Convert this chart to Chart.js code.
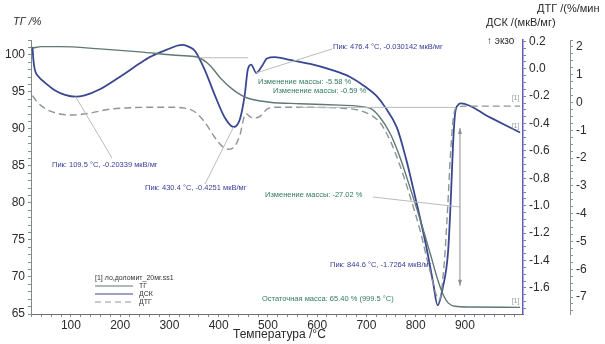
<!DOCTYPE html>
<html>
<head>
<meta charset="utf-8">
<script src="https://cdn.jsdelivr.net/npm/chart.js@4.4.1/dist/chart.umd.min.js"></script>
<style>
  html, body { margin: 0; padding: 0; background: #fff; }
</style>
</head>
<body>
<canvas id="chart" width="605" height="344"></canvas>
<script>
// TG / DSC / DTG curves

const tgTemp   = [22, 40, 78, 159, 240, 321, 356, 382, 403, 429, 457, 504, 565, 646, 707, 727, 748, 768, 788, 809, 829, 845, 856, 866, 880, 910, 1012];
const tgValues = [100.9, 101.1, 101.1, 100.8, 100.4, 99.9, 99.7, 98.6, 96.9, 95.3, 94.2, 93.6, 93.4, 93.2, 92.8, 91.6, 89.4, 86.2, 82.2, 77.8, 73.3, 69.6, 67.6, 66.5, 66.05, 65.95, 65.9];

const dscTemp   = [22, 24, 27, 35, 47, 68, 88, 109.5, 128, 159, 199, 240, 260, 281, 301, 315, 327, 340, 352, 372, 392, 413, 430.4, 443, 453, 459, 466, 476.4, 488, 498, 514, 545, 586, 626, 667, 697, 721, 738, 762, 780, 800, 820, 835, 844.6, 855, 866, 872, 876, 880, 886, 892, 951, 1012];
const dscValues = [0.16, 0.06, -0.01, -0.06, -0.1, -0.158, -0.19, -0.2034, -0.194, -0.15, -0.06, 0.04, 0.085, 0.12, 0.148, 0.168, 0.175, 0.16, 0.13, -0.01, -0.19, -0.36, -0.4251, -0.37, -0.19, -0.01, 0.03, -0.0301, 0.02, 0.075, 0.085, 0.065, 0.035, -0.005, -0.06, -0.13, -0.2, -0.28, -0.43, -0.65, -0.95, -1.27, -1.55, -1.7264, -1.6, -1.33, -0.9, -0.55, -0.33, -0.265, -0.252, -0.355, -0.465];

const dtgTemp   = [22, 30, 40, 57, 80, 104, 139, 179, 220, 260, 301, 331, 352, 372, 392, 407, 419, 433, 443, 455, 468, 482, 500, 520, 565, 646, 697, 727, 748, 768, 788, 809, 829, 848, 858, 865, 871, 877, 885, 900, 1012];
const dtgValues = [0.25, 0.05, -0.12, -0.3, -0.42, -0.45, -0.38, -0.24, -0.19, -0.17, -0.17, -0.2, -0.34, -0.71, -1.25, -1.57, -1.68, -1.57, -1.18, -0.4, -0.55, -0.52, -0.22, -0.17, -0.17, -0.2, -0.35, -0.71, -1.36, -2.26, -3.34, -4.6, -6.05, -7.1, -5.8, -3.8, -1.8, -0.5, -0.16, -0.13, -0.13];

// tick labels
const xTicks   = [100, 200, 300, 400, 500, 600, 700, 800, 900];
const tgTicks  = [65, 70, 75, 80, 85, 90, 95, 100];
const dscTicks = [-1.6, -1.4, -1.2, -1.0, -0.8, -0.6, -0.4, -0.2, 0.0, 0.2];
const dtgTicks = [-7, -6, -5, -4, -3, -2, -1, 0, 1, 2];

// annotations
const peakTemps  = [109.5, 430.4, 476.4, 844.6];
const peakValues = [-0.20339, -0.4251, -0.030142, -1.7264];
const massChanges = [-5.58, -0.59, -27.02];
const residualMass = 65.40;
const residualTemp = 999.5;

const FONT = '"Liberation Sans", Arial, sans-serif';
Chart.defaults.font.family = FONT;
Chart.defaults.color = "#2b2b2b";

const TG_COLOR = "#5f7875";
const DSC_COLOR = "#3a4790";
const DTG_COLOR = "#8d9594";

const pts = (xs, ys) => xs.map((t, i) => ({ x: t, y: ys[i] }));

// major ticks with labels, minor ones without
function tickBuilder(step, min, max) {
  return scale => {
    const out = [];
    const n0 = Math.ceil(min / step - 1e-9), n1 = Math.floor(max / step + 1e-9);
    for (let n = n0; n <= n1; n++) out.push({ value: +(n * step).toFixed(4) });
    scale.ticks = out;
  };
}
const isMajor = (list, v) => list.some(m => Math.abs(m - v) < 1e-6);

const annotate = {
  id: "annotate",
  afterDatasetsDraw(chart) {
    const { ctx, scales } = chart;
    const x = scales.x, yTG = scales.yTG, yDSC = scales.yDSC, yDTG = scales.yDTG;
    const line = (x1, y1, x2, y2) => { ctx.beginPath(); ctx.moveTo(x1, y1); ctx.lineTo(x2, y2); ctx.stroke(); };
    ctx.save();

    // mass change reference lines
    ctx.strokeStyle = "#b9bcbc";
    ctx.lineWidth = 1;
    line(x.getPixelForValue(362), yTG.getPixelForValue(99.6), x.getPixelForValue(460), yTG.getPixelForValue(99.6));
    line(x.getPixelForValue(565), yTG.getPixelForValue(92.9), x.getPixelForValue(880), yTG.getPixelForValue(92.9));

    // peak leader lines
    const leaderEnds = [[112, 158], [205, 184], [332, 49], null];
    peakTemps.forEach((t, i) => {
      if (!leaderEnds[i]) return;
      line(x.getPixelForValue(t), yDSC.getPixelForValue(peakValues[i]), leaderEnds[i][0], leaderEnds[i][1]);
    });
    line(373, 197, 460, 207);

    // double arrow of the big mass step
    const ax = x.getPixelForValue(890);
    const ay1 = yTG.getPixelForValue(90.1), ay2 = yTG.getPixelForValue(68.8);
    ctx.strokeStyle = "#8a8f8f";
    line(ax, ay1, ax, ay2);
    ctx.fillStyle = "#8a8f8f";
    ctx.beginPath(); ctx.moveTo(ax, ay1); ctx.lineTo(ax - 2, ay1 + 6); ctx.lineTo(ax + 2, ay1 + 6); ctx.fill();
    ctx.beginPath(); ctx.moveTo(ax, ay2); ctx.lineTo(ax - 2, ay2 - 6); ctx.lineTo(ax + 2, ay2 - 6); ctx.fill();

    // peak labels
    ctx.textBaseline = "middle";
    ctx.textAlign = "left";
    ctx.font = "7.5px " + FONT;
    ctx.fillStyle = "#3a409a";
    const peakPos = [[52, 165], [145, 188], [333, 47], [330, 265]];
    peakTemps.forEach((t, i) => {
      ctx.fillText("Пик: " + t.toFixed(1) + " °C, " + peakValues[i] + " мкВ/мг", peakPos[i][0], peakPos[i][1]);
    });

    // mass labels
    ctx.fillStyle = "#2f7a5e";
    const massPos = [[258, 82], [273, 91], [265, 195]];
    massChanges.forEach((m, i) => {
      ctx.fillText("Изменение массы: " + m.toFixed(2) + " %", massPos[i][0], massPos[i][1]);
    });
    ctx.fillText("Остаточная масса: " + residualMass.toFixed(2) + " % (" + residualTemp.toFixed(1) + " °C)", 262, 299);

    // [1] tags at curve ends
    ctx.font = "6.5px " + FONT;
    ctx.fillStyle = "#8a8f8f";
    const endX = x.getPixelForValue(1012) - 8;
    ctx.fillText("[1]", endX, yDTG.getPixelForValue(dtgValues[dtgValues.length - 1]) - 8);
    ctx.fillText("[1]", endX, yDSC.getPixelForValue(dscValues[dscValues.length - 1]) - 6);
    ctx.fillText("[1]", endX, yTG.getPixelForValue(tgValues[tgValues.length - 1]) - 6);

    // legend
    ctx.fillStyle = "#333";
    ctx.font = "7px " + FONT;
    ctx.fillText("[1] ло,доломит_20мг.ss1", 95, 278);
    const legend = [["ТГ", TG_COLOR, []], ["ДСК", DSC_COLOR, []], ["ДТГ", DTG_COLOR, [6, 4]]];
    legend.forEach((item, i) => {
      const ly = 286 + i * 8;
      ctx.strokeStyle = item[1];
      ctx.lineWidth = 1.2;
      ctx.setLineDash(item[2]);
      line(95, ly, 133, ly);
      ctx.setLineDash([]);
      ctx.fillStyle = "#333";
      ctx.fillText(item[0], 139, ly);
    });
    ctx.restore();
  },
  afterDraw(chart) {
    const ctx = chart.ctx;
    ctx.save();
    ctx.fillStyle = "#2b2b2b";
    ctx.textBaseline = "middle";
    ctx.textAlign = "left";
    ctx.font = "italic 11px " + FONT;
    ctx.fillText("ТГ /%", 13, 22);
    ctx.font = "11px " + FONT;
    ctx.fillText("ДТГ /(%/мин", 537, 9);
    ctx.fillText("ДСК /(мкВ/мг)", 486, 23);
    ctx.font = "10px " + FONT;
    ctx.fillText("↑ экзо", 487, 41);
    ctx.font = "12px " + FONT;
    ctx.fillText("Температура /°C", 233, 335);
    ctx.restore();
  }
};

const axisBase = {
  grid: { drawOnChartArea: false, drawTicks: true, tickLength: 3 },
  ticks: { autoSkip: false, maxRotation: 0, padding: 3, font: { size: 12 } }
};

new Chart(document.getElementById("chart"), {
  type: "line",
  data: {
    datasets: [
      {
        label: "ТГ",
        data: pts(tgTemp, tgValues),
        yAxisID: "yTG",
        borderColor: TG_COLOR,
        borderWidth: 1.4
      },
      {
        label: "ДТГ",
        data: pts(dtgTemp, dtgValues),
        yAxisID: "yDTG",
        borderColor: DTG_COLOR,
        borderWidth: 1.4,
        borderDash: [7, 4]
      },
      {
        label: "ДСК",
        data: pts(dscTemp, dscValues),
        yAxisID: "yDSC",
        borderColor: DSC_COLOR,
        borderWidth: 1.8
      }
    ]
  },
  options: {
    responsive: false,
    animation: false,
    layout: { padding: { top: 40, left: 0, right: 0, bottom: 0 } },
    elements: {
      point: { radius: 0 },
      line: { cubicInterpolationMode: "monotone", fill: false }
    },
    plugins: {
      legend: { display: false },
      tooltip: { enabled: false }
    },
    scales: {
      x: {
        type: "linear",
        position: "bottom",
        min: 19,
        max: 1018,
        border: { color: "#6d7070" },
        grid: { ...axisBase.grid, color: "#8a8d8d" },
        ticks: { ...axisBase.ticks, padding: 1, callback: v => isMajor(xTicks, v) ? String(v) : "" },
        afterBuildTicks: tickBuilder(20, 20, 1000),
        afterFit: s => { s.height = 30; }
      },
      yTG: {
        type: "linear",
        position: "left",
        min: 65,
        max: 102,
        border: { color: "#7a8a88" },
        grid: { ...axisBase.grid, color: "#8a8d8d" },
        ticks: { ...axisBase.ticks, callback: v => isMajor(tgTicks, v) ? String(v) : "" },
        afterBuildTicks: tickBuilder(1, 65, 102),
        afterFit: s => { s.width = 31; }
      },
      yDSC: {
        type: "linear",
        position: "right",
        weight: 0,
        min: -1.79,
        max: 0.21,
        border: { color: "#5e5eb2", width: 1.5 },
        grid: { ...axisBase.grid, color: "#7a7ab8" },
        ticks: { ...axisBase.ticks, callback: v => isMajor(dscTicks, v) ? v.toFixed(1) : "" },
        afterBuildTicks: tickBuilder(0.05, -1.75, 0.2),
        afterFit: s => { s.width = 47; }
      },
      yDTG: {
        type: "linear",
        position: "right",
        weight: 1,
        min: -7.61,
        max: 2.25,
        border: { color: "#8d9594" },
        grid: { ...axisBase.grid, color: "#8d9594" },
        ticks: { ...axisBase.ticks, callback: v => isMajor(dtgTicks, v) ? String(v) : "" },
        afterBuildTicks: tickBuilder(0.25, -7.5, 2.25),
        afterFit: s => { s.width = 35; }
      }
    }
  },
  plugins: [annotate]
});
</script>
</body>
</html>
